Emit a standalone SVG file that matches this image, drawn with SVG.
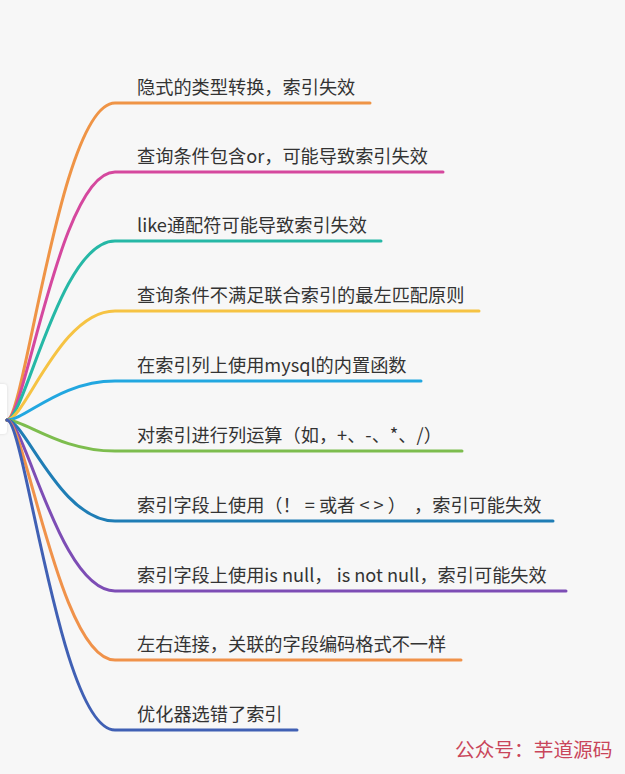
<svg xmlns="http://www.w3.org/2000/svg" width="625" height="774" viewBox="0 0 625 774">
<style>
.t{font-family:"Noto Sans CJK SC","Liberation Sans",sans-serif;font-size:18.2px;fill:#333}
.c{fill:none;stroke-width:3;stroke-linecap:round}
.w{font-family:"Noto Sans CJK SC",sans-serif;font-size:19.7px;fill:#c9455a}
</style>
<defs>
<filter id="sh" x="-50%" y="-20%" width="200%" height="140%"><feDropShadow dx="0" dy="0" stdDeviation="1.5" flood-color="#000" flood-opacity="0.12"/></filter>
</defs>
<rect width="625" height="774" fill="#f7f7f7"/>
<g id="root"><rect x="-8" y="384" width="15" height="50" rx="4" fill="#fff" filter="url(#sh)"/></g>
<g id="connectors">
<path class="c" stroke="#ef9446" d="M7,420 C25,420 60,103 115,103 L370,103"/>
<path class="c" stroke="#d5489e" d="M7,420 C25,420 60,172 115,172 L443,172"/>
<path class="c" stroke="#26b8a6" d="M7,420 C25,420 60,241 115,241 L381,241"/>
<path class="c" stroke="#f6c343" d="M7,420 C25,420 60,311 115,311 L479,311"/>
<path class="c" stroke="#22a7e0" d="M7,420 C25,420 60,381 115,381 L421,381"/>
<path class="c" stroke="#7dbd4e" d="M7,420 C25,420 60,451 115,451 L462,451"/>
<path class="c" stroke="#1f7db5" d="M7,420 C25,420 60,521 115,521 L553,521"/>
<path class="c" stroke="#7d4db5" d="M7,420 C25,420 60,591 115,591 L566,591"/>
<path class="c" stroke="#f0924a" d="M7,420 C25,420 60,660 115,660 L461,660"/>
<path class="c" stroke="#4060b4" d="M7,420 C25,420 60,730 115,730 L297,730"/>
</g>
<g id="n1"><text class="t" x="137" y="94">隐式的类型转换，索引失效</text></g>
<g id="n2"><text class="t" x="137" y="163">查询条件包含or，可能导致索引失效</text></g>
<g id="n3"><text class="t" x="137" y="232">like通配符可能导致索引失效</text></g>
<g id="n4"><text class="t" x="137" y="302">查询条件不满足联合索引的最左匹配原则</text></g>
<g id="n5"><text class="t" x="137" y="372">在索引列上使用mysql的内置函数</text></g>
<g id="n6"><text class="t" x="137" y="442">对索引进行列运算（如，+、-、*、/）</text></g>
<g id="n7"><text class="t" x="137" y="512">索引字段上使用（！ = 或者 &lt;&#160;&gt; ）&#160; ，索引可能失效</text></g>
<g id="n8"><text class="t" x="137" y="582">索引字段上使用is null， is not null，索引可能失效</text></g>
<g id="n9"><text class="t" x="137" y="651">左右连接，关联的字段编码格式不一样</text></g>
<g id="n10"><text class="t" x="137" y="721">优化器选错了索引</text></g>
<text class="w" x="455" y="757">公众号：芋道源码</text>
</svg>
